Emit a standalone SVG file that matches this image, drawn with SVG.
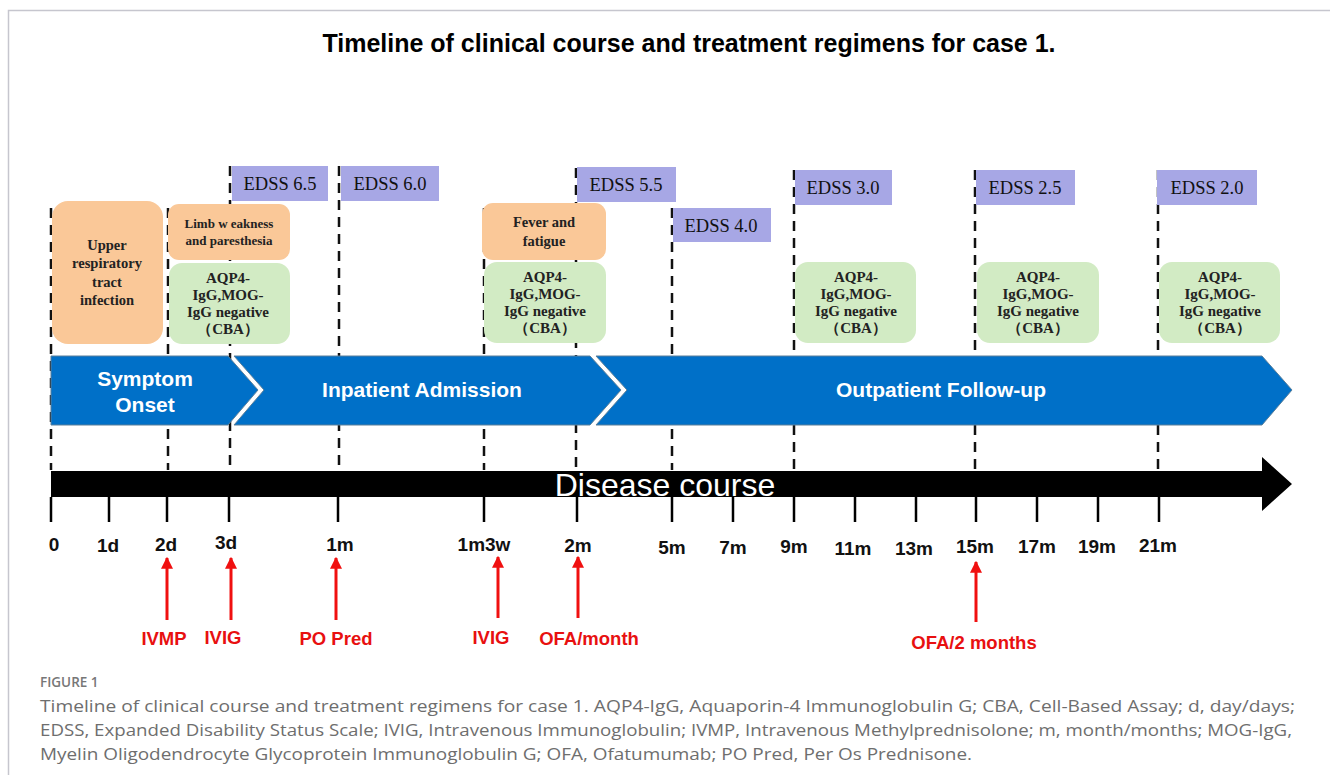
<svg xmlns="http://www.w3.org/2000/svg" width="1330" height="775" viewBox="0 0 1330 775">
<defs>
<style>
.title{font-family:"Liberation Sans",Arial,sans-serif;font-weight:bold;font-size:25px;fill:#000}
.edss rect{fill:#A7A7E5}
.edss text{font-family:"Liberation Serif","Times New Roman",serif;font-size:18.5px;fill:#111;text-anchor:middle}
.orange rect{fill:#FAC898}
.green rect{fill:#D2EBC4}
.box text{font-family:"Liberation Serif","Times New Roman",serif;font-weight:bold;font-size:14.5px;fill:#222;text-anchor:middle}
.green text{font-size:15px}
.phase path{fill:#0070C8;stroke:#5a7f9a;stroke-width:1}
.phase text{font-family:"Liberation Sans",Arial,sans-serif;font-weight:bold;font-size:21px;fill:#fff;text-anchor:middle}
.dash{stroke:#111;stroke-width:2.5;stroke-dasharray:10 7;fill:none}
.tick{stroke:#000;stroke-width:2.5}
.tl{font-family:"Liberation Sans",Arial,sans-serif;font-weight:bold;font-size:19px;fill:#111;text-anchor:middle}
.rx{stroke:#F01010;stroke-width:3;fill:none}
.rl{font-family:"Liberation Sans",Arial,sans-serif;font-weight:bold;font-size:18.5px;fill:#E81010;text-anchor:middle}
.cap{font-family:"Open Sans",Lato,sans-serif;font-size:17px;fill:#6e6e6e}
</style>
<marker id="rh" viewBox="0 0 10 10" refX="9" refY="5" markerWidth="4" markerHeight="4.5" orient="auto" markerUnits="strokeWidth">
<path d="M0,0 L10,5 L0,10 z" fill="#F01010"/>
</marker>
</defs>
<rect x="0" y="0" width="1330" height="775" fill="#fff"/>
<path d="M8.5,775 V10.5 H1330" fill="none" stroke="#C6C6CE" stroke-width="1.5"/>
<text class="title" x="689" y="52" text-anchor="middle">Timeline of clinical course and treatment regimens for case 1.</text>

<g id="connectors">
<line class="dash" x1="51" y1="208" x2="51" y2="470"/>
<line class="dash" x1="168" y1="208" x2="168" y2="470"/>
<line class="dash" x1="230" y1="166" x2="230" y2="470"/>
<line class="dash" x1="339" y1="166" x2="339" y2="470"/>
<line class="dash" x1="484" y1="208" x2="484" y2="470"/>
<line class="dash" x1="576" y1="168" x2="576" y2="470"/>
<line class="dash" x1="672" y1="208" x2="672" y2="470"/>
<line class="dash" x1="794" y1="170" x2="794" y2="470"/>
<line class="dash" x1="975" y1="170" x2="975" y2="470"/>
<line class="dash" x1="1158" y1="170" x2="1158" y2="470"/>
</g>

<g id="edss">
<g class="edss" id="edss65"><rect x="232" y="166" width="96" height="35"/><text x="280" y="190">EDSS 6.5</text></g>
<g class="edss" id="edss60"><rect x="341" y="166" width="98" height="35"/><text x="390" y="190">EDSS 6.0</text></g>
<g class="edss" id="edss55"><rect x="577" y="167" width="99" height="35"/><text x="626" y="191">EDSS 5.5</text></g>
<g class="edss" id="edss40"><rect x="673" y="208" width="98" height="34"/><text x="721" y="232">EDSS 4.0</text></g>
<g class="edss" id="edss30"><rect x="795" y="170" width="97" height="35"/><text x="843" y="194">EDSS 3.0</text></g>
<g class="edss" id="edss25"><rect x="976" y="170" width="99" height="35"/><text x="1025" y="194">EDSS 2.5</text></g>
<g class="edss" id="edss20"><rect x="1157" y="170" width="100" height="35"/><text x="1207" y="194">EDSS 2.0</text></g>
</g>

<g id="events">
<g class="box orange" id="uri"><rect x="52" y="201" width="111" height="143" rx="16"/>
<text x="107" y="250">Upper</text><text x="107" y="268">respiratory</text><text x="107" y="287">tract</text><text x="107" y="305">infection</text></g>
<g class="box orange" id="limb"><rect x="168" y="204" width="122" height="56" rx="11"/>
<text x="229" y="228" style="font-size:13px">Limb w eakness</text><text x="229" y="245" style="font-size:13px">and paresthesia</text></g>
<g class="box orange" id="fever"><rect x="482" y="203" width="124" height="57" rx="11"/>
<text x="544" y="227">Fever and</text><text x="544" y="246">fatigue</text></g>
</g>

<g id="tests">
<g class="box green" id="cba1"><rect x="169" y="263" width="121" height="81" rx="13"/>
<text x="228" y="283">AQP4-</text><text x="228" y="300">IgG,MOG-</text><text x="228" y="317">IgG negative</text><text x="228" y="334">（CBA）</text></g>
<g class="box green" id="cba2"><rect x="484" y="262" width="122" height="81" rx="13"/>
<text x="545" y="282">AQP4-</text><text x="545" y="299">IgG,MOG-</text><text x="545" y="316">IgG negative</text><text x="545" y="333">（CBA）</text></g>
<g class="box green" id="cba3"><rect x="795" y="262" width="121" height="81" rx="13"/>
<text x="856" y="282">AQP4-</text><text x="856" y="299">IgG,MOG-</text><text x="856" y="316">IgG negative</text><text x="856" y="333">（CBA）</text></g>
<g class="box green" id="cba4"><rect x="977" y="262" width="122" height="81" rx="13"/>
<text x="1038" y="282">AQP4-</text><text x="1038" y="299">IgG,MOG-</text><text x="1038" y="316">IgG negative</text><text x="1038" y="333">（CBA）</text></g>
<g class="box green" id="cba5"><rect x="1159" y="262" width="121" height="81" rx="13"/>
<text x="1220" y="282">AQP4-</text><text x="1220" y="299">IgG,MOG-</text><text x="1220" y="316">IgG negative</text><text x="1220" y="333">（CBA）</text></g>
</g>

<g id="phases">
<g class="phase" id="onset"><path d="M51,356 H228 L258,390 L228,425 H51 Z"/>
<text x="145" y="386">Symptom</text><text x="145" y="412">Onset</text></g>
<g class="phase" id="inpatient"><path d="M234,356 H590 L621,390 L590,425 H234 L264,390 Z"/>
<text x="422" y="397">Inpatient Admission</text></g>
<g class="phase" id="outpatient"><path d="M596,356 H1262 L1292,390 L1262,425 H596 L627,390 Z"/>
<text x="941" y="397">Outpatient Follow-up</text></g>
</g>

<g id="axis">
<path d="M51,471 H1262 V457 L1292,484 L1262,511 V497 H51 Z" fill="#000"/>
<text x="665" y="496" font-family="Liberation Sans,Arial,sans-serif" font-size="32" fill="#fff" text-anchor="middle">Disease course</text>
<g class="ticks">
<line class="tick" x1="51" y1="497" x2="51" y2="522"/>
<line class="tick" x1="109" y1="497" x2="109" y2="522"/>
<line class="tick" x1="167" y1="497" x2="167" y2="522"/>
<line class="tick" x1="229" y1="497" x2="229" y2="522"/>
<line class="tick" x1="338" y1="497" x2="338" y2="522"/>
<line class="tick" x1="484" y1="497" x2="484" y2="522"/>
<line class="tick" x1="577" y1="497" x2="577" y2="522"/>
<line class="tick" x1="672" y1="497" x2="672" y2="522"/>
<line class="tick" x1="733" y1="497" x2="733" y2="522"/>
<line class="tick" x1="794" y1="497" x2="794" y2="522"/>
<line class="tick" x1="855" y1="497" x2="855" y2="522"/>
<line class="tick" x1="916" y1="497" x2="916" y2="522"/>
<line class="tick" x1="976" y1="497" x2="976" y2="522"/>
<line class="tick" x1="1037" y1="497" x2="1037" y2="522"/>
<line class="tick" x1="1098" y1="497" x2="1098" y2="522"/>
<line class="tick" x1="1159" y1="497" x2="1159" y2="522"/>
</g>
<text class="tl" x="54" y="551">0</text>
<text class="tl" x="108" y="552">1d</text>
<text class="tl" x="166" y="551">2d</text>
<text class="tl" x="226" y="549">3d</text>
<text class="tl" x="340" y="551">1m</text>
<text class="tl" x="484" y="551">1m3w</text>
<text class="tl" x="578" y="552">2m</text>
<text class="tl" x="672" y="554">5m</text>
<text class="tl" x="733" y="554">7m</text>
<text class="tl" x="794" y="553">9m</text>
<text class="tl" x="853" y="555">11m</text>
<text class="tl" x="914" y="555">13m</text>
<text class="tl" x="975" y="553">15m</text>
<text class="tl" x="1037" y="553">17m</text>
<text class="tl" x="1097" y="553">19m</text>
<text class="tl" x="1158" y="552">21m</text>
</g>

<g id="treatments">
<line class="rx" x1="167" y1="620" x2="167" y2="558" marker-end="url(#rh)"/>
<line class="rx" x1="231" y1="620" x2="231" y2="558" marker-end="url(#rh)"/>
<line class="rx" x1="336" y1="620" x2="336" y2="558" marker-end="url(#rh)"/>
<line class="rx" x1="498" y1="618" x2="498" y2="557" marker-end="url(#rh)"/>
<line class="rx" x1="578" y1="618" x2="578" y2="557" marker-end="url(#rh)"/>
<line class="rx" x1="976" y1="622" x2="976" y2="562" marker-end="url(#rh)"/>
<text class="rl" x="164" y="645">IVMP</text>
<text class="rl" x="223" y="644">IVIG</text>
<text class="rl" x="336" y="645">PO Pred</text>
<text class="rl" x="491" y="644">IVIG</text>
<text class="rl" x="589" y="645">OFA/month</text>
<text class="rl" x="974" y="649">OFA/2 months</text>
</g>

<g id="caption">
<text x="40" y="687" font-family="'Open Sans',sans-serif" font-weight="600" font-size="13.5" fill="#777">FIGURE 1</text>
<text class="cap" x="40" y="712" textLength="1255" lengthAdjust="spacingAndGlyphs">Timeline of clinical course and treatment regimens for case 1. AQP4-IgG, Aquaporin-4 Immunoglobulin G; CBA, Cell-Based Assay; d, day/days;</text>
<text class="cap" x="40" y="736" textLength="1252" lengthAdjust="spacingAndGlyphs">EDSS, Expanded Disability Status Scale; IVIG, Intravenous Immunoglobulin; IVMP, Intravenous Methylprednisolone; m, month/months; MOG-IgG,</text>
<text class="cap" x="40" y="760" textLength="932" lengthAdjust="spacingAndGlyphs">Myelin Oligodendrocyte Glycoprotein Immunoglobulin G; OFA, Ofatumumab; PO Pred, Per Os Prednisone.</text>
</g>
</svg>
